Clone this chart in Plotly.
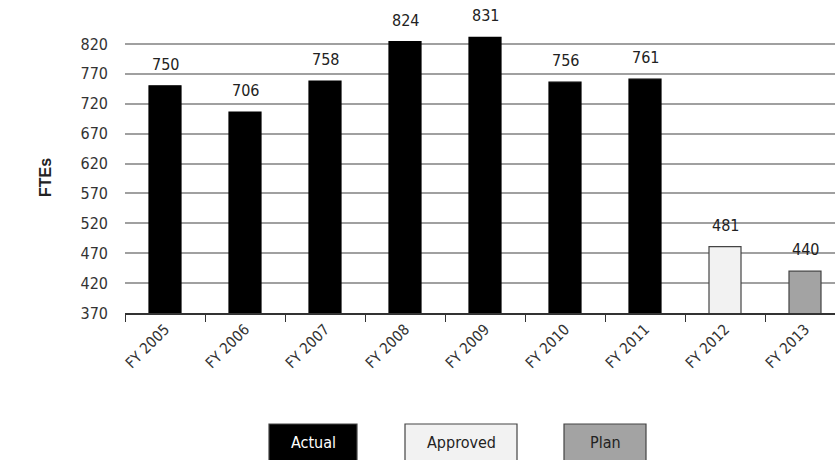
import plotly.graph_objects as go

categories = ["FY 2005", "FY 2006", "FY 2007", "FY 2008", "FY 2009",
              "FY 2010", "FY 2011", "FY 2012", "FY 2013"]
values = [750, 706, 758, 824, 831, 756, 761, 481, 440]
status = ["Actual"] * 7 + ["Approved", "Plan"]
legend_names = ["Actual", "Approved", "Plan"]
y_ticks = [370, 420, 470, 520, 570, 620, 670, 720, 770, 820]

colors = {"Actual": "#000000", "Approved": "#f2f2f2", "Plan": "#a3a3a3"}
line_colors = {"Actual": "#000000", "Approved": "#444444", "Plan": "#444444"}

FONT = "DejaVu Sans Condensed, Liberation Sans Narrow, sans-serif"

fig = go.Figure()
fig.add_trace(go.Bar(
    x=categories,
    y=values,
    width=0.4,
    marker=dict(color=[colors[s] for s in status],
                line=dict(color=[line_colors[s] for s in status], width=1.2)),
    showlegend=False,
    hoverinfo="x+y",
))

# value labels above bars
annotations = []
for c, v in zip(categories, values):
    annotations.append(dict(x=c, y=v, xref="x", yref="y", text=str(v), showarrow=False,
                            yanchor="bottom", yshift=10,
                            font=dict(family=FONT, size=16, color="#222222")))

# legend boxes (paper coordinates)
L, R, T, B = 125, 835, 17, 313
W, H = R - L, B - T
def px(x):
    return (x - L) / W
def py(y):
    return (B - y) / H

boxes = [(269, 357), (405, 517), (564, 646)]
shapes = []
for name, (x0, x1) in zip(legend_names, boxes):
    shapes.append(dict(type="rect", xref="paper", yref="paper",
                       x0=px(x0), x1=px(x1), y0=py(462), y1=py(424),
                       fillcolor=colors[name], line=dict(color="#444444", width=1.2)))
    annotations.append(dict(xref="paper", yref="paper", x=px((x0 + x1) / 2), y=py(442),
                            text=name, showarrow=False,
                            font=dict(family=FONT, size=16,
                                      color="#ffffff" if name == "Actual" else "#222222"),
                            xanchor="center", yanchor="middle"))

annotations.append(dict(xref="paper", yref="paper", x=px(46), y=py(178),
                        text="<b>FTEs</b>", showarrow=False, textangle=-90,
                        font=dict(family="Liberation Sans, Arial, sans-serif", size=16, color="#222222"),
                        xanchor="center", yanchor="middle"))

fig.update_layout(
    width=835, height=460,
    margin=dict(l=L, r=0, t=T, b=460 - B, autoexpand=False),
    plot_bgcolor="white", paper_bgcolor="white",
    bargap=0.6,
    shapes=shapes,
    annotations=annotations,
    font=dict(family=FONT, size=16, color="#333333"),
    xaxis=dict(
        type="category",
        range=[-0.5, 8.375],
        tickangle=-45,
        ticks="outside", tickson="boundaries", ticklen=7, tickcolor="#333333",
        showline=True, linecolor="#333333", linewidth=1.5,
        showgrid=False,
        tickfont=dict(family=FONT, size=15, color="#333333"),
    ),
    yaxis=dict(
        range=[370, 865],
        tickvals=y_ticks,
        ticktext=[str(t) for t in y_ticks],
        showgrid=True, gridcolor="#a0a0a0", gridwidth=1.5,
        zeroline=False, showline=False, ticks="",
        ticklabelstandoff=16,
        tickfont=dict(family=FONT, size=16, color="#333333"),
    ),
)

fig.write_html("out.html")
